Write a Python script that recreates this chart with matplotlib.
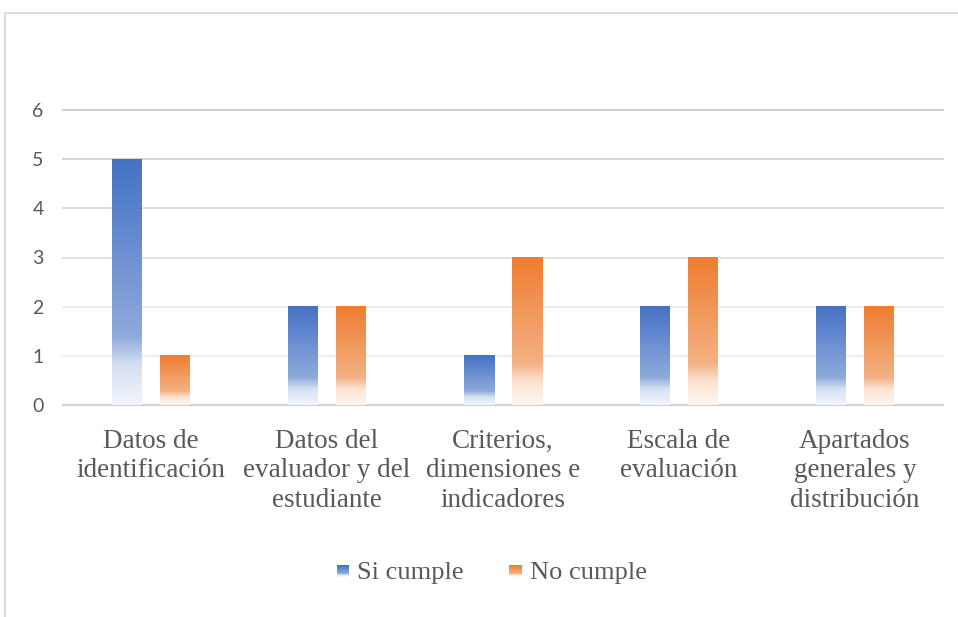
import numpy as np
import matplotlib
matplotlib.use("Agg")
import matplotlib.pyplot as plt
from matplotlib.colors import to_rgb
from matplotlib.patches import Rectangle
from matplotlib.legend_handler import HandlerBase

categories = ["Datos de\nidentificación", "Datos del\nevaluador y del\nestudiante",
              "Criterios,\ndimensiones e\nindicadores", "Escala de\nevaluación",
              "Apartados\ngenerales y\ndistribución"]
si_cumple = [5, 2, 1, 2, 2]
no_cumple = [1, 2, 3, 3, 2]
series_names = ["Si cumple", "No cumple"]
series_colors = ["#4472C4", "#ED7D31"]
y_ticks = [0, 1, 2, 3, 4, 5, 6]


def gradient_rgb(color, n=200):
    # top -> bottom: solid, then lighter, then almost white near the base
    c = np.array(to_rgb(color))
    w = np.ones(3)
    t = np.linspace(0, 1, n)
    stops = [(0.0, 0.0), (0.72, 0.40), (0.84, 0.78), (1.0, 0.93)]
    mix = np.interp(t, [s[0] for s in stops], [s[1] for s in stops])
    return c[None, :] * (1 - mix[:, None]) + w[None, :] * mix[:, None]


def gradient_bar(ax, x, h, width, color):
    img = gradient_rgb(color)[:, None, :]
    ax.imshow(img, extent=(x - width / 2, x + width / 2, 0, h), origin="upper",
              aspect="auto", interpolation="bilinear", zorder=3)


class GradientHandler(HandlerBase):
    def __init__(self, color):
        super().__init__()
        self.color = color

    def create_artists(self, legend, orig_handle, xdescent, ydescent,
                       width, height, fontsize, trans):
        side = height * 0.68
        x0 = -xdescent + width - side
        y0 = -ydescent + (height - side) / 2 - height * 0.08
        cols = gradient_rgb(self.color, 12)
        arts = []
        for i, c in enumerate(cols):
            yy = y0 + side - (i + 1) * side / len(cols)
            arts.append(Rectangle((x0, yy), side, side / len(cols) + 0.05,
                                  facecolor=c, edgecolor="none", transform=trans))
        return arts


fig = plt.figure(figsize=(9.58, 6.17), dpi=100)
W, H = 958, 617

# outer chart border
fig.add_artist(Rectangle((5 / W, -0.1), 1.2, (H - 13) / H + 0.1, transform=fig.transFigure,
                         facecolor="none", edgecolor="#d9d9d9", linewidth=1.3))

ax = fig.add_axes([63 / W, (H - 405) / H, 880 / W, 295 / H])

grid_cols = ["#d0d0d0", "#f0f0f0", "#ececec", "#e4e4e4", "#dcdcdc", "#d4d4d4", "#cccccc"]
for yv, gc in zip(y_ticks, grid_cols):
    ax.axhline(yv, color=gc, linewidth=1.6 if yv == 0 else 1.4, zorder=1, clip_on=False)

x = np.arange(len(categories)) + 0.5
bw = 30 / 176
off = 24 / 176
for vals, col, sign in [(si_cumple, series_colors[0], -1), (no_cumple, series_colors[1], 1)]:
    for xi, v in zip(x, vals):
        gradient_bar(ax, xi + sign * off, v, bw, col)

ax.set_xlim(0, len(categories))
ax.set_ylim(0, 6)
ax.set_aspect("auto")

for s in ax.spines.values():
    s.set_visible(False)
ax.set_yticks(y_ticks)
ax.set_yticklabels([str(v) for v in y_ticks], fontfamily="Lato", fontsize=14, color="#595959")
ax.tick_params(axis="y", length=0, pad=14)
ax.set_xticks(x)
ax.set_xticklabels(categories, fontfamily="Liberation Serif", fontsize=19.5,
                   color="#595959", linespacing=1.25, va="top")
ax.tick_params(axis="x", length=0, pad=17)

handles = [Rectangle((0, 0), 1, 1) for _ in series_names]
leg = fig.legend(handles, series_names, loc="center", bbox_to_anchor=(490 / W, (H - 572) / H),
                 ncol=2, frameon=False, handlelength=0.6, handletextpad=0.3, columnspacing=1.6,
                 prop={"family": "Liberation Serif", "size": 19},
                 handler_map={handles[0]: GradientHandler(series_colors[0]),
                              handles[1]: GradientHandler(series_colors[1])})
for t in leg.get_texts():
    t.set_color("#595959")
    t.set_fontfamily("Liberation Serif")

fig.savefig("out.png", dpi=100)
